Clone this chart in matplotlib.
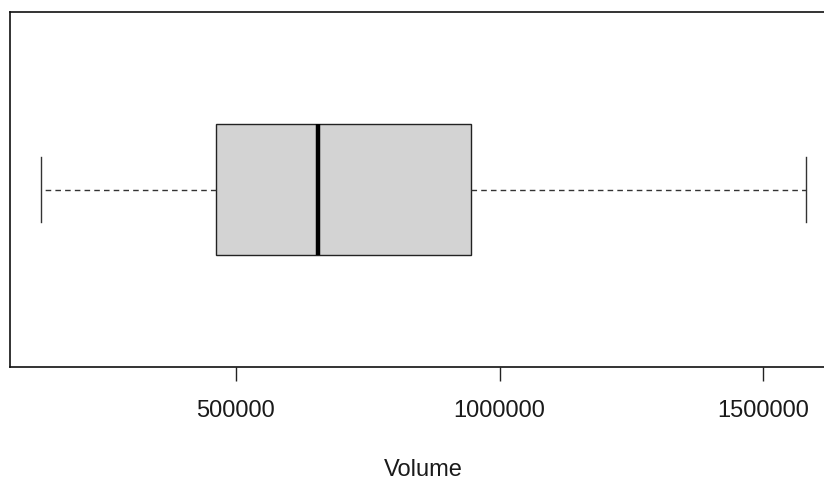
import matplotlib
matplotlib.use("Agg")
import matplotlib.pyplot as plt

# five-number summary of Volume
vol_min = 130000
vol_q1 = 462000
vol_med = 655600
vol_q3 = 945400
vol_max = 1581000
ticks = [500000, 1000000, 1500000]

plt.rcParams['font.family'] = ['Liberation Sans', 'DejaVu Sans']

fig = plt.figure(figsize=(8.24, 4.8), dpi=100)
# axes runs past the right edge of the figure like the original
ax = fig.add_axes([10 / 824, 113 / 480, 826.6 / 824, 355 / 480])

stats = [{'whislo': vol_min, 'q1': vol_q1, 'med': vol_med, 'q3': vol_q3,
          'whishi': vol_max, 'fliers': [], 'label': ''}]
ax.bxp(stats, positions=[1], widths=0.4, vert=False, patch_artist=True,
       showfliers=False,
       boxprops=dict(facecolor='#d3d3d3', edgecolor='#222222', linewidth=1.0),
       medianprops=dict(color='black', linewidth=3.2),
       whiskerprops=dict(color='#333333', linewidth=1.0, linestyle=(0, (4, 3))),
       capprops=dict(color='#333333', linewidth=1.0),
       capwidths=0.2)

rng = vol_max - vol_min
ax.set_xlim(vol_min - 0.04 * rng, vol_max + 0.04 * rng)
ax.set_ylim(0.46, 1.54)
ax.set_yticks([])
ax.set_xticks(ticks)
ax.set_xticklabels([str(t) for t in ticks], fontsize=17, color='#1a1a1a')
ax.tick_params(axis='x', length=10, width=1.0, pad=14, color='#222222')
for s in ax.spines.values():
    s.set_linewidth(1.2)
    s.set_color('#111111')

fig.text(423 / 824, 1 - 470 / 480, 'Volume', ha='center', va='center',
         fontsize=17, color='#1a1a1a')

fig.savefig('out.png', dpi=100)
